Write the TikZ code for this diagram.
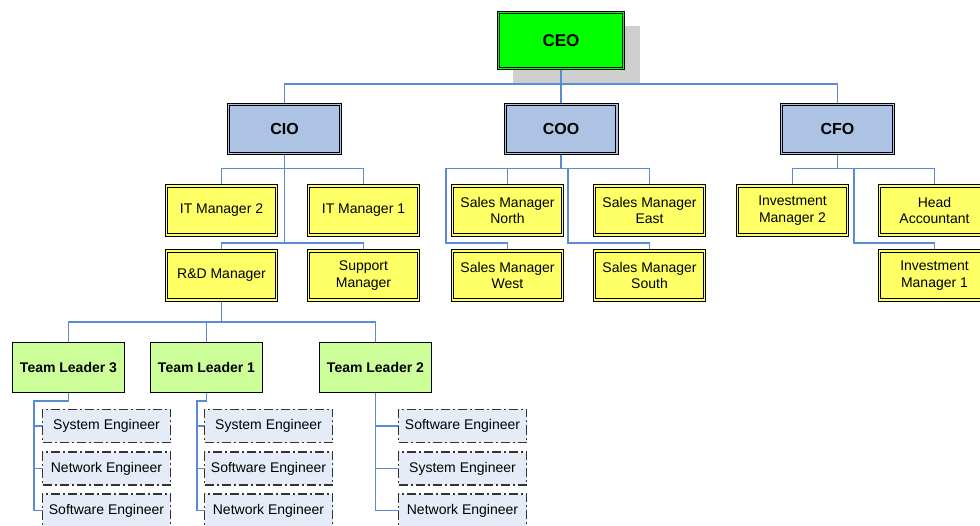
\documentclass[tikz,border=0pt]{standalone}
\usepackage{fontspec}
\setmainfont{Liberation Sans}
\usetikzlibrary{backgrounds}
\definecolor{linec}{HTML}{5B8BD5}
\definecolor{ceoc}{HTML}{00FF00}
\definecolor{hdrc}{HTML}{ADC3E4}
\definecolor{mgrc}{HTML}{FFFF66}
\definecolor{tlc}{HTML}{CCFF99}
\definecolor{engc}{HTML}{E6ECF7}
\definecolor{shadowc}{HTML}{CFCFCF}
\tikzset{
  conn/.style={draw=linec, line width=1.2pt},
  dbl/.style={rectangle, draw=black, line width=1pt, double distance=1.4pt, inner sep=0pt, outer sep=0pt, align=center},
  ceobox/.style={dbl, fill=ceoc, double=ceoc, minimum width=124.6pt, minimum height=55.6pt, font=\fontsize{17}{20}\selectfont\bfseries},
  hdr/.style={dbl, fill=hdrc, double=hdrc, minimum width=111.6pt, minimum height=48.6pt, font=\fontsize{16}{19}\selectfont\bfseries},
  mgr/.style={dbl, fill=mgrc, double=mgrc, minimum width=109.6pt, minimum height=49.1pt, font=\fontsize{14}{16.5}\selectfont},
  tl/.style={rectangle, draw=black, line width=0.9pt, fill=tlc, minimum width=112pt, minimum height=50pt, inner sep=0pt, outer sep=0pt, font=\fontsize{14}{16.5}\selectfont\bfseries},
  eng/.style={rectangle, draw=black!80, line width=1.2pt, dash pattern=on 9pt off 3pt on 2pt off 3pt, fill=engc, minimum width=128pt, minimum height=33pt, inner sep=0pt, outer sep=0pt, font=\fontsize{14}{16.5}\selectfont}
}
\begin{document}
\begin{tikzpicture}[x=1pt,y=-1pt]
\path[use as bounding box, clip] (0,0) rectangle (980,526);
% level coordinates
\coordinate (L84) at (0,84);
\coordinate (L168) at (0,168.5);
\coordinate (L243) at (0,243);
\coordinate (L322) at (0,322);
\coordinate (L401) at (0,401);
\coordinate (X446) at (446,0);
\coordinate (X568) at (568,0);
\coordinate (X854) at (854,0);
\coordinate (X34) at (34,0);
\coordinate (X197) at (197,0);
% nodes
\node[ceobox] (ceo) at (561,40.5) {CEO};
\node[hdr] (cio) at (284.5,129) {CIO};
\node[hdr] (coo) at (561,129) {COO};
\node[hdr] (cfo) at (837.5,129) {CFO};
\node[mgr] (it2) at (221.5,210.5) {IT Manager 2};
\node[mgr] (it1) at (363.5,210.5) {IT Manager 1};
\node[mgr] (rd)  at (221.5,275.5) {R\&D Manager};
\node[mgr] (sup) at (363.5,275.5) {Support\\Manager};
\node[mgr] (smn) at (507.5,210.5) {Sales Manager\\North};
\node[mgr] (sme) at (649.5,210.5) {Sales Manager\\East};
\node[mgr] (smw) at (507.5,275.5) {Sales Manager\\West};
\node[mgr] (sms) at (649.5,275.5) {Sales Manager\\South};
\node[mgr] (im2) at (792.5,210.5) {Investment\\Manager 2};
\node[mgr] (ha)  at (934.5,210.5) {Head\\Accountant};
\node[mgr] (im1) at (934.5,275.5) {Investment\\Manager 1};
\node[tl] (tl3) at (68.5,367.5) {Team Leader 3};
\node[tl] (tl1) at (206.5,367.5) {Team Leader 1};
\node[tl] (tl2) at (375.5,367.5) {Team Leader 2};
\node[eng] (e31) at (106.5,426) {System Engineer};
\node[eng] (e32) at (106.5,468.5) {Network Engineer};
\node[eng] (e33) at (106.5,510.5) {Software Engineer};
\node[eng] (e11) at (268.5,426) {System Engineer};
\node[eng] (e12) at (268.5,468.5) {Software Engineer};
\node[eng] (e13) at (268.5,510.5) {Network Engineer};
\node[eng] (e21) at (462.5,426) {Software Engineer};
\node[eng] (e22) at (462.5,468.5) {System Engineer};
\node[eng] (e23) at (462.5,510.5) {Network Engineer};
\begin{scope}[on background layer]
\fill[shadowc] ([shift={(14,13)}]ceo.north west) rectangle ([shift={(17,16)}]ceo.south east);
% top level
\draw[conn] (ceo.south) -- (ceo.south |- L84);
\draw[conn] (cio.north) |- (cfo.north |- L84) -- (cfo.north);
\draw[conn] (coo.north) -- (coo.north |- L84);
% CIO
\draw[conn] (cio.south) -- (cio.south |- L243);
\draw[conn] (it2.north) |- (it1.north |- L168) -- (it1.north);
\draw[conn] (rd.north) |- (sup.north |- L243) -- (sup.north);
% COO
\draw[conn] (coo.south) -- (coo.south |- L168);
\draw[conn] (smn.north) -- (smn.north |- L168);
\draw[conn] (smw.north) -- (smw.north |- L243) -| (X446 |- L168) -| (sme.north);
\draw[conn] (sms.north) -- (sms.north |- L243) -| (X568 |- L168);
% CFO
\draw[conn] (cfo.south) -- (cfo.south |- L168);
\draw[conn] (im2.north) |- (ha.north |- L168) -- (ha.north);
\draw[conn] (im1.north) -- (im1.north |- L243) -| (X854 |- L168);
% R&D
\draw[conn] (rd.south) -- (rd.south |- L322);
\draw[conn] (tl3.north) |- (tl2.north |- L322) -- (tl2.north);
\draw[conn] (tl1.north) -- (tl1.north |- L322);
% TL3
\draw[conn] (tl3.south) -- (tl3.south |- L401) -| (X34 |- e33.west) -- (e33.west);
\draw[conn] (X34 |- e31.west) -- (e31.west);
\draw[conn] (X34 |- e32.west) -- (e32.west);
% TL1
\draw[conn] (tl1.south) -- (tl1.south |- L401) -| (X197 |- e13.west) -- (e13.west);
\draw[conn] (X197 |- e11.west) -- (e11.west);
\draw[conn] (X197 |- e12.west) -- (e12.west);
% TL2
\draw[conn] (tl2.south) |- (e23.west);
\draw[conn] (tl2.south |- e21.west) -- (e21.west);
\draw[conn] (tl2.south |- e22.west) -- (e22.west);
\end{scope}
\end{tikzpicture}
\end{document}
